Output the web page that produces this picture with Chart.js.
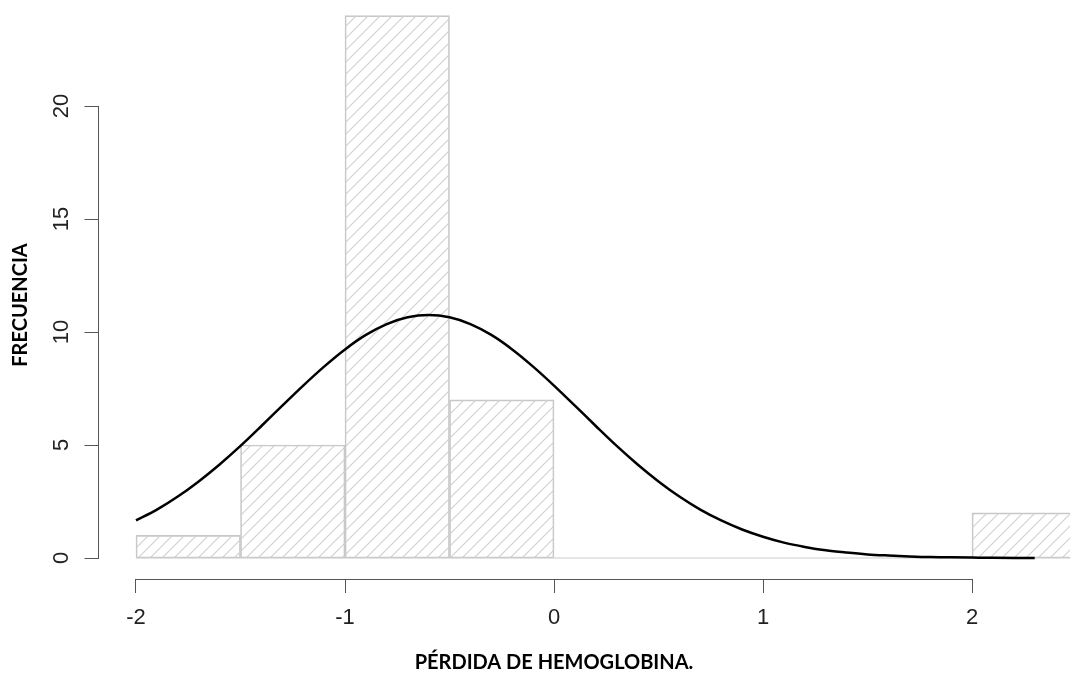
<!DOCTYPE html>
<html>
<head>
<meta charset="utf-8">
<script src="https://cdn.jsdelivr.net/npm/chart.js@4"></script>
<style>
  html, body { margin: 0; padding: 0; background: #fff; }
  #wrap { width: 1070px; height: 675px; position: relative; }
</style>
</head>
<body>
<div id="wrap"><canvas id="c" width="1070" height="675"></canvas></div>
<script>
// ---- data ----
const binEdges = [-2, -1.5, -1, -0.5, 0, 0.5, 1, 1.5, 2, 2.5];
const binCounts = [1, 5, 24, 7, 0, 0, 0, 0, 2];
const curveX = [-2.0,-1.9,-1.8,-1.7,-1.6,-1.5,-1.4,-1.3,-1.2,-1.1,-1.0,-0.9,-0.8,-0.7,-0.6,-0.5,-0.4,-0.3,-0.2,-0.1,0.0,0.1,0.2,0.3,0.4,0.5,0.6,0.7,0.8,0.9,1.0,1.1,1.2,1.3,1.4,1.5,1.6,1.7,1.8,1.9,2.0,2.1,2.2,2.3];
const curveY = [1.66,2.14,2.72,3.39,4.14,4.96,5.84,6.74,7.63,8.47,9.23,9.87,10.35,10.65,10.75,10.65,10.35,9.87,9.23,8.47,7.63,6.74,5.84,4.96,4.14,3.39,2.72,2.14,1.66,1.26,0.94,0.68,0.49,0.34,0.24,0.16,0.11,0.07,0.04,0.03,0.02,0.01,0.005,0.003];
const xTicks = [-2, -1, 0, 1, 2];
const yTicks = [0, 5, 10, 15, 20];
const xTitle = 'PÉRDIDA DE HEMOGLOBINA.';
const yTitle = 'FRECUENCIA';

// ---- hatch pattern ----
function makeHatch() {
  const s = 12;
  const pc = document.createElement('canvas');
  pc.width = s; pc.height = s;
  const g = pc.getContext('2d');
  g.strokeStyle = '#cfcfcf';
  g.lineWidth = 1.1;
  g.beginPath();
  g.moveTo(0, s); g.lineTo(s, 0);
  g.moveTo(-2, 2); g.lineTo(2, -2);
  g.moveTo(s - 2, s + 2); g.lineTo(s + 2, s - 2);
  g.stroke();
  return document.getElementById('c').getContext('2d').createPattern(pc, 'repeat');
}
const hatch = makeHatch();

const barData = binCounts.map((v, i) => ({ x: (binEdges[i] + binEdges[i + 1]) / 2, y: v }));
const baseData = [{ x: binEdges[0], y: 0 }, { x: binEdges[binEdges.length - 1], y: 0 }];
const curveData = curveX.map((x, i) => ({ x: x, y: curveY[i] }));

const tickFont = '"Liberation Sans", Arial, Helvetica, sans-serif';

const axisPlugin = {
  id: 'rAxes',
  afterDraw(chart) {
    const ctx = chart.ctx;
    const xs = chart.scales.x, ys = chart.scales.y;
    const ca = chart.chartArea;
    ctx.save();
    ctx.strokeStyle = '#555';
    ctx.lineWidth = 1;
    // x axis line (tick marks drawn by the scale)
    const yLine = ca.bottom + 0.5;
    ctx.beginPath();
    ctx.moveTo(Math.round(xs.getPixelForValue(xTicks[0])), yLine);
    ctx.lineTo(Math.round(xs.getPixelForValue(xTicks[xTicks.length - 1])) + 1, yLine);
    ctx.stroke();
    // y axis
    const axX = Math.round(xs.getPixelForValue(xTicks[0])) - 38 + 0.5;
    ctx.beginPath();
    ctx.moveTo(axX, ys.getPixelForValue(yTicks[0]));
    ctx.lineTo(axX, ys.getPixelForValue(yTicks[yTicks.length - 1]));
    yTicks.forEach(v => {
      const py = Math.round(ys.getPixelForValue(v)) + 0.5;
      ctx.moveTo(axX + 0.5, py);
      ctx.lineTo(axX - 14, py);
    });
    ctx.stroke();
    ctx.fillStyle = '#222';
    ctx.font = '22px ' + tickFont;
    ctx.textAlign = 'center';
    ctx.textBaseline = 'middle';
    yTicks.forEach(v => {
      const py = ys.getPixelForValue(v);
      ctx.save();
      ctx.translate(axX - 38, py);
      ctx.rotate(-Math.PI / 2);
      ctx.fillText(String(v), 0, 1);
      ctx.restore();
    });
    // titles
    ctx.fillStyle = '#000';
    ctx.font = 'bold 20px Lato, "Open Sans", sans-serif';
    ctx.fillText(xTitle, xs.getPixelForValue(0), 663);
    ctx.save();
    ctx.translate(21, 305);
    ctx.rotate(-Math.PI / 2);
    ctx.fillText(yTitle, 0, 0);
    ctx.restore();
    ctx.restore();
  }
};

const pxPerUnitX = 209, x0px = 136;
const pxPerUnitY = 22.6, y0px = 558, axisBottom = 579;

new Chart(document.getElementById('c'), {
  type: 'bar',
  data: {
    datasets: [
      { type: 'line', data: curveData, borderColor: '#000', borderWidth: 2.5, pointRadius: 0, cubicInterpolationMode: 'monotone', order: 0 },
      { type: 'line', data: baseData, borderColor: '#cccccc', borderWidth: 1, pointRadius: 0, order: 1 },
      { type: 'bar', data: barData, backgroundColor: hatch, borderColor: '#c8c8c8', borderWidth: 1, borderSkipped: false, barPercentage: 1, categoryPercentage: 1, order: 2 }
    ]
  },
  options: {
    responsive: false,
    animation: false,
    layout: { padding: 0 },
    plugins: { legend: { display: false }, tooltip: { enabled: false } },
    scales: {
      x: {
        type: 'linear',
        offset: false,
        min: -2 - x0px / pxPerUnitX,
        max: -2 + (1070 - x0px) / pxPerUnitX,
        afterBuildTicks: s => { s.ticks = xTicks.map(v => ({ value: v })); },
        afterFit: s => { s.height = 675 - axisBottom; },
        grid: { display: true, offset: false, drawOnChartArea: false, drawTicks: true, tickLength: 14, color: '#555', lineWidth: 1 },
        border: { display: false },
        ticks: { color: '#222', font: { family: tickFont, size: 22 }, padding: 12, maxRotation: 0, autoSkip: false, callback: v => String(v) }
      },
      y: {
        display: false,
        min: -(axisBottom - y0px) / pxPerUnitY,
        max: y0px / pxPerUnitY
      }
    }
  },
  plugins: [axisPlugin]
});
</script>
</body>
</html>
